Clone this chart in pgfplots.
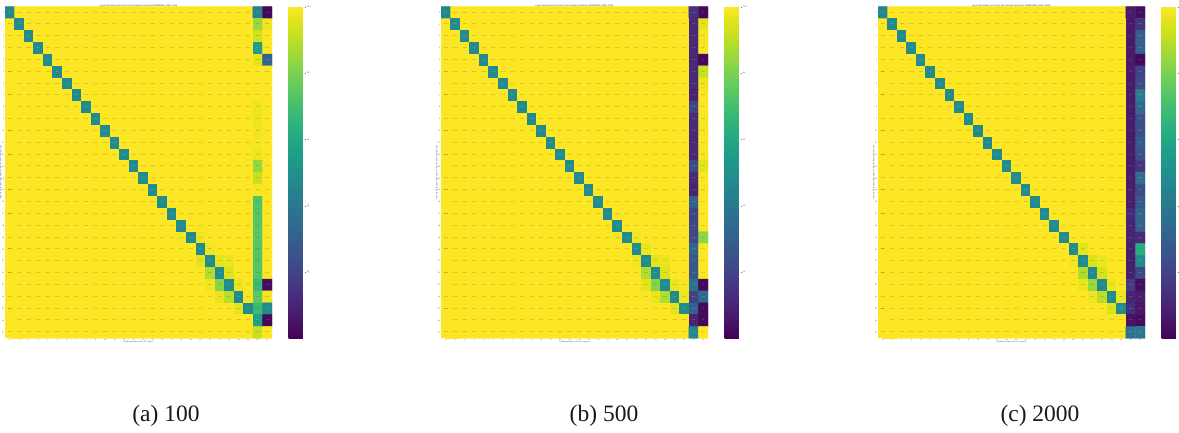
\documentclass[border=0pt]{standalone}
\usepackage{fontspec}
\setmainfont{Liberation Serif}
\newfontfamily\djv{DejaVu Sans}
\usepackage{pgfplots}
\usepackage{pgfplotstable}
\pgfplotsset{compat=1.18}
\definecolor{vtop}{RGB}{253,231,37}
\pgfplotstableread[row sep=\\,header=false]{%
46\\100\\100\\100\\100\\ 100\\100\\100\\100\\100\\ 100\\100\\100\\100\\100\\ 100\\100\\100\\100\\100\\ 100\\100\\100\\100\\100\\ 100\\44\\2\\
100\\48\\100\\100\\100\\ 100\\100\\100\\100\\100\\ 100\\100\\100\\100\\100\\ 100\\100\\100\\100\\100\\ 100\\100\\100\\100\\100\\ 100\\85\\98\\
100\\100\\48\\100\\100\\ 100\\100\\100\\100\\100\\ 100\\100\\100\\100\\100\\ 100\\100\\100\\100\\100\\ 100\\100\\100\\100\\100\\ 100\\93\\100\\
100\\100\\100\\48\\100\\ 100\\100\\100\\100\\100\\ 100\\100\\100\\100\\100\\ 100\\100\\100\\100\\100\\ 100\\100\\100\\100\\100\\ 100\\55\\100\\
100\\100\\100\\100\\48\\ 100\\100\\100\\100\\100\\ 100\\100\\100\\100\\100\\ 100\\100\\100\\100\\100\\ 100\\100\\100\\100\\100\\ 100\\96\\32\\
100\\100\\100\\100\\100\\ 48\\100\\100\\100\\100\\ 100\\100\\100\\100\\100\\ 100\\100\\100\\100\\100\\ 100\\100\\100\\100\\100\\ 100\\100\\100\\
100\\100\\100\\100\\100\\ 100\\48\\100\\100\\100\\ 100\\100\\100\\100\\100\\ 100\\100\\100\\100\\100\\ 100\\100\\100\\100\\100\\ 100\\100\\100\\
100\\100\\100\\100\\100\\ 100\\100\\48\\100\\100\\ 100\\100\\100\\100\\100\\ 100\\100\\100\\100\\100\\ 100\\100\\100\\100\\100\\ 100\\100\\100\\
100\\100\\100\\100\\100\\ 100\\100\\100\\48\\100\\ 100\\100\\100\\100\\100\\ 100\\100\\100\\100\\100\\ 100\\100\\100\\100\\100\\ 100\\97\\100\\
100\\100\\100\\100\\100\\ 100\\100\\100\\100\\48\\ 100\\100\\100\\100\\100\\ 100\\100\\100\\100\\100\\ 100\\100\\100\\100\\100\\ 100\\97\\100\\
100\\100\\100\\100\\100\\ 100\\100\\100\\100\\100\\ 48\\100\\100\\100\\100\\ 100\\100\\100\\100\\100\\ 100\\100\\100\\100\\100\\ 100\\98\\100\\
100\\100\\100\\100\\100\\ 100\\100\\100\\100\\100\\ 100\\48\\100\\100\\100\\ 100\\100\\100\\100\\100\\ 100\\100\\100\\100\\100\\ 100\\99\\100\\
100\\100\\100\\100\\100\\ 100\\100\\100\\100\\100\\ 100\\100\\48\\100\\100\\ 100\\100\\100\\100\\100\\ 100\\100\\100\\100\\100\\ 100\\97\\100\\
100\\100\\100\\100\\100\\ 100\\100\\100\\100\\100\\ 100\\100\\100\\48\\100\\ 100\\100\\100\\100\\100\\ 100\\100\\100\\100\\100\\ 100\\84\\100\\
100\\100\\100\\100\\100\\ 100\\100\\100\\100\\100\\ 100\\100\\100\\100\\48\\ 100\\100\\100\\100\\100\\ 100\\100\\100\\100\\100\\ 100\\92\\100\\
100\\100\\100\\100\\100\\ 100\\100\\100\\100\\100\\ 100\\100\\100\\100\\100\\ 48\\100\\100\\100\\100\\ 100\\100\\100\\100\\100\\ 100\\99\\100\\
100\\100\\100\\100\\100\\ 100\\100\\100\\100\\100\\ 100\\100\\100\\100\\100\\ 100\\48\\100\\100\\100\\ 100\\100\\100\\100\\100\\ 100\\72\\100\\
100\\100\\100\\100\\100\\ 100\\100\\100\\100\\100\\ 100\\100\\100\\100\\100\\ 100\\100\\48\\100\\100\\ 100\\100\\100\\100\\100\\ 100\\73\\100\\
100\\100\\100\\100\\100\\ 100\\100\\100\\100\\100\\ 100\\100\\100\\100\\100\\ 100\\100\\100\\48\\100\\ 100\\100\\100\\100\\100\\ 100\\74\\100\\
100\\100\\100\\100\\100\\ 100\\100\\100\\100\\100\\ 100\\100\\100\\100\\100\\ 100\\100\\100\\99\\48\\ 98\\100\\100\\100\\100\\ 100\\74\\100\\
100\\100\\100\\100\\100\\ 100\\100\\100\\100\\100\\ 100\\100\\100\\100\\100\\ 100\\100\\100\\100\\100\\ 48\\98\\100\\100\\100\\ 100\\73\\100\\
100\\100\\100\\100\\100\\ 100\\100\\100\\100\\100\\ 100\\100\\100\\100\\100\\ 100\\100\\100\\100\\100\\ 96\\48\\96\\97\\100\\ 100\\73\\100\\
100\\100\\100\\100\\100\\ 100\\100\\100\\100\\100\\ 100\\100\\100\\100\\100\\ 100\\100\\100\\100\\100\\ 100\\88\\48\\95\\100\\ 100\\73\\100\\
100\\100\\100\\100\\100\\ 100\\100\\100\\100\\100\\ 100\\100\\100\\100\\100\\ 100\\100\\100\\100\\100\\ 100\\98\\82\\48\\97\\ 100\\68\\3\\
100\\100\\100\\100\\100\\ 100\\100\\100\\100\\100\\ 100\\100\\100\\100\\100\\ 100\\100\\100\\100\\100\\ 100\\100\\97\\90\\48\\ 99\\75\\98\\
100\\100\\100\\100\\100\\ 100\\100\\100\\100\\100\\ 100\\100\\100\\100\\100\\ 100\\100\\100\\100\\100\\ 100\\100\\100\\100\\96\\ 48\\68\\48\\
100\\100\\100\\100\\100\\ 100\\100\\100\\100\\100\\ 100\\100\\100\\100\\100\\ 100\\100\\100\\100\\100\\ 100\\100\\100\\100\\100\\ 100\\57\\2\\
100\\100\\100\\100\\100\\ 100\\100\\100\\100\\100\\ 100\\100\\100\\100\\100\\ 100\\100\\100\\100\\100\\ 100\\100\\100\\100\\100\\ 100\\92\\100\\%
}\tabA
\pgfplotstableread[row sep=\\,header=false]{%
46\\100\\100\\100\\100\\ 100\\100\\100\\100\\100\\ 100\\100\\100\\100\\100\\ 100\\100\\100\\100\\100\\ 100\\100\\100\\100\\100\\ 100\\14\\2\\
100\\48\\100\\100\\100\\ 100\\100\\100\\100\\100\\ 100\\100\\100\\100\\100\\ 100\\100\\100\\100\\100\\ 100\\100\\100\\100\\100\\ 100\\12\\96\\
100\\100\\48\\100\\100\\ 100\\100\\100\\100\\100\\ 100\\100\\100\\100\\100\\ 100\\100\\100\\100\\100\\ 100\\100\\100\\100\\100\\ 100\\12\\99\\
100\\100\\100\\48\\100\\ 100\\100\\100\\100\\100\\ 100\\100\\100\\100\\100\\ 100\\100\\100\\100\\100\\ 100\\100\\100\\100\\100\\ 100\\12\\99\\
100\\100\\100\\100\\48\\ 100\\100\\100\\100\\100\\ 100\\100\\100\\100\\100\\ 100\\100\\100\\100\\100\\ 100\\100\\100\\100\\100\\ 100\\11\\2\\
100\\100\\100\\100\\100\\ 48\\100\\100\\100\\100\\ 100\\100\\100\\100\\100\\ 100\\100\\100\\100\\100\\ 100\\100\\100\\100\\100\\ 100\\12\\92\\
100\\100\\100\\100\\100\\ 100\\48\\100\\100\\100\\ 100\\100\\100\\100\\100\\ 100\\100\\100\\100\\100\\ 100\\100\\100\\100\\100\\ 100\\12\\98\\
100\\100\\100\\100\\100\\ 100\\100\\48\\100\\100\\ 100\\100\\100\\100\\100\\ 100\\100\\100\\100\\100\\ 100\\100\\100\\100\\100\\ 100\\10\\100\\
100\\100\\100\\100\\100\\ 100\\100\\100\\48\\100\\ 100\\100\\100\\100\\100\\ 100\\100\\100\\100\\100\\ 100\\100\\100\\100\\100\\ 100\\20\\100\\
100\\100\\100\\100\\100\\ 100\\100\\100\\100\\48\\ 100\\100\\100\\100\\100\\ 100\\100\\100\\100\\100\\ 100\\100\\100\\100\\100\\ 100\\12\\99\\
100\\100\\100\\100\\100\\ 100\\100\\100\\100\\100\\ 48\\100\\100\\100\\100\\ 100\\100\\100\\100\\100\\ 100\\100\\100\\100\\100\\ 100\\12\\99\\
100\\100\\100\\100\\100\\ 100\\100\\100\\100\\100\\ 100\\48\\100\\100\\100\\ 100\\100\\100\\100\\100\\ 100\\100\\100\\100\\100\\ 100\\11\\100\\
100\\100\\100\\100\\100\\ 100\\100\\100\\100\\100\\ 100\\100\\48\\100\\100\\ 100\\100\\100\\100\\100\\ 100\\100\\100\\100\\100\\ 100\\11\\99\\
100\\100\\100\\100\\100\\ 100\\100\\100\\100\\100\\ 100\\100\\100\\48\\100\\ 100\\100\\100\\100\\100\\ 100\\100\\100\\100\\100\\ 100\\22\\96\\
100\\100\\100\\100\\100\\ 100\\100\\100\\100\\100\\ 100\\100\\100\\100\\48\\ 100\\100\\100\\100\\100\\ 100\\100\\100\\100\\100\\ 100\\12\\100\\
100\\100\\100\\100\\100\\ 100\\100\\100\\100\\100\\ 100\\100\\100\\100\\100\\ 48\\100\\100\\100\\100\\ 100\\100\\100\\100\\100\\ 100\\10\\99\\
100\\100\\100\\100\\100\\ 100\\100\\100\\100\\100\\ 100\\100\\100\\100\\100\\ 100\\48\\100\\100\\100\\ 100\\100\\100\\100\\100\\ 100\\30\\100\\
100\\100\\100\\100\\100\\ 100\\100\\100\\100\\100\\ 100\\100\\100\\100\\100\\ 100\\100\\48\\100\\100\\ 100\\100\\100\\100\\100\\ 100\\20\\100\\
100\\100\\100\\100\\100\\ 100\\100\\100\\100\\100\\ 100\\100\\100\\100\\100\\ 100\\100\\100\\48\\100\\ 100\\100\\100\\100\\100\\ 100\\22\\100\\
100\\100\\100\\100\\100\\ 100\\100\\100\\100\\100\\ 100\\100\\100\\100\\100\\ 100\\100\\100\\99\\48\\ 98\\100\\100\\100\\100\\ 100\\22\\83\\
100\\100\\100\\100\\100\\ 100\\100\\100\\100\\100\\ 100\\100\\100\\100\\100\\ 100\\100\\100\\100\\100\\ 48\\97\\100\\100\\100\\ 100\\32\\100\\
100\\100\\100\\100\\100\\ 100\\100\\100\\100\\100\\ 100\\100\\100\\100\\100\\ 100\\100\\100\\100\\100\\ 98\\48\\96\\97\\100\\ 100\\27\\100\\
100\\100\\100\\100\\100\\ 100\\100\\100\\100\\100\\ 100\\100\\100\\100\\100\\ 100\\100\\100\\100\\100\\ 100\\88\\48\\95\\100\\ 100\\27\\100\\
100\\100\\100\\100\\100\\ 100\\100\\100\\100\\100\\ 100\\100\\100\\100\\100\\ 100\\100\\100\\100\\100\\ 100\\96\\82\\48\\97\\ 99\\37\\2\\
100\\100\\100\\100\\100\\ 100\\100\\100\\100\\100\\ 100\\100\\100\\100\\100\\ 100\\100\\100\\100\\100\\ 100\\100\\97\\88\\48\\ 98\\20\\34\\
100\\100\\100\\100\\100\\ 100\\100\\100\\100\\100\\ 100\\100\\100\\100\\100\\ 100\\100\\100\\100\\100\\ 100\\100\\100\\100\\96\\ 48\\30\\2\\
100\\100\\100\\100\\100\\ 100\\100\\100\\100\\100\\ 100\\100\\100\\100\\100\\ 100\\100\\100\\100\\100\\ 100\\100\\100\\100\\100\\ 100\\10\\2\\
100\\100\\100\\100\\100\\ 100\\100\\100\\100\\100\\ 100\\100\\100\\100\\100\\ 100\\100\\100\\100\\100\\ 100\\100\\100\\100\\100\\ 100\\47\\100\\%
}\tabB
\pgfplotstableread[row sep=\\,header=false]{%
46\\100\\100\\100\\100\\ 100\\100\\100\\100\\100\\ 100\\100\\100\\100\\100\\ 100\\100\\100\\100\\100\\ 100\\100\\100\\100\\100\\ 100\\7\\3\\
100\\48\\100\\100\\100\\ 100\\100\\100\\100\\100\\ 100\\100\\100\\100\\100\\ 100\\100\\100\\100\\100\\ 100\\100\\100\\100\\100\\ 100\\7\\15\\
100\\100\\48\\100\\100\\ 100\\100\\100\\100\\100\\ 100\\100\\100\\100\\100\\ 100\\100\\100\\100\\100\\ 100\\100\\100\\100\\100\\ 100\\7\\30\\
100\\100\\100\\48\\100\\ 100\\100\\100\\100\\100\\ 100\\100\\100\\100\\100\\ 100\\100\\100\\100\\100\\ 100\\100\\100\\100\\100\\ 100\\7\\30\\
100\\100\\100\\100\\48\\ 100\\100\\100\\100\\100\\ 100\\100\\100\\100\\100\\ 100\\100\\100\\100\\100\\ 100\\100\\100\\100\\100\\ 100\\7\\2\\
100\\100\\100\\100\\100\\ 48\\100\\100\\100\\100\\ 100\\100\\100\\100\\100\\ 100\\100\\100\\100\\100\\ 100\\100\\100\\100\\100\\ 100\\7\\20\\
100\\100\\100\\100\\100\\ 100\\48\\100\\100\\100\\ 100\\100\\100\\100\\100\\ 100\\100\\100\\100\\100\\ 100\\100\\100\\100\\100\\ 100\\7\\22\\
100\\100\\100\\100\\100\\ 100\\100\\48\\100\\100\\ 100\\100\\100\\100\\100\\ 100\\100\\100\\100\\100\\ 100\\100\\100\\100\\100\\ 100\\7\\42\\
100\\100\\100\\100\\100\\ 100\\100\\100\\48\\100\\ 100\\100\\100\\100\\100\\ 100\\100\\100\\100\\100\\ 100\\100\\100\\100\\100\\ 100\\7\\34\\
100\\100\\100\\100\\100\\ 100\\100\\100\\100\\48\\ 100\\100\\100\\100\\100\\ 100\\100\\100\\100\\100\\ 100\\100\\100\\100\\100\\ 100\\7\\24\\
100\\100\\100\\100\\100\\ 100\\100\\100\\100\\100\\ 48\\100\\100\\100\\100\\ 100\\100\\100\\100\\100\\ 100\\100\\100\\100\\100\\ 100\\7\\24\\
100\\100\\100\\100\\100\\ 100\\100\\100\\100\\100\\ 100\\48\\100\\100\\100\\ 100\\100\\100\\100\\100\\ 100\\100\\100\\100\\100\\ 100\\7\\28\\
100\\100\\100\\100\\100\\ 100\\100\\100\\100\\100\\ 100\\100\\48\\100\\100\\ 100\\100\\100\\100\\100\\ 100\\100\\100\\100\\100\\ 100\\7\\24\\
100\\100\\100\\100\\100\\ 100\\100\\100\\100\\100\\ 100\\100\\100\\48\\100\\ 100\\100\\100\\100\\100\\ 100\\100\\100\\100\\100\\ 100\\7\\15\\
100\\100\\100\\100\\100\\ 100\\100\\100\\100\\100\\ 100\\100\\100\\100\\48\\ 100\\100\\100\\100\\100\\ 100\\100\\100\\100\\100\\ 100\\7\\35\\
100\\100\\100\\100\\100\\ 100\\100\\100\\100\\100\\ 100\\100\\100\\100\\100\\ 48\\100\\100\\100\\100\\ 100\\100\\100\\100\\100\\ 100\\8\\22\\
100\\100\\100\\100\\100\\ 100\\100\\100\\100\\100\\ 100\\100\\100\\100\\100\\ 100\\48\\100\\100\\100\\ 100\\100\\100\\100\\100\\ 100\\8\\28\\
100\\100\\100\\100\\100\\ 100\\100\\100\\100\\100\\ 100\\100\\100\\100\\100\\ 100\\100\\48\\100\\100\\ 100\\100\\100\\100\\100\\ 100\\12\\32\\
100\\100\\100\\100\\100\\ 100\\100\\100\\100\\100\\ 100\\100\\100\\100\\100\\ 100\\100\\100\\48\\100\\ 100\\100\\100\\100\\100\\ 100\\10\\32\\
100\\100\\100\\100\\100\\ 100\\100\\100\\100\\100\\ 100\\100\\100\\100\\100\\ 100\\100\\100\\100\\48\\ 100\\100\\100\\100\\100\\ 100\\10\\12\\
100\\100\\100\\100\\100\\ 100\\100\\100\\100\\100\\ 100\\100\\100\\100\\100\\ 100\\100\\100\\100\\100\\ 48\\96\\100\\100\\100\\ 100\\8\\62\\
100\\100\\100\\100\\100\\ 100\\100\\100\\100\\100\\ 100\\100\\100\\100\\100\\ 100\\100\\100\\100\\100\\ 98\\48\\95\\97\\100\\ 100\\8\\47\\
100\\100\\100\\100\\100\\ 100\\100\\100\\100\\100\\ 100\\100\\100\\100\\100\\ 100\\100\\100\\100\\100\\ 100\\88\\48\\94\\100\\ 100\\8\\22\\
100\\100\\100\\100\\100\\ 100\\100\\100\\100\\100\\ 100\\100\\100\\100\\100\\ 100\\100\\100\\100\\100\\ 100\\97\\85\\48\\97\\ 100\\17\\3\\
100\\100\\100\\100\\100\\ 100\\100\\100\\100\\100\\ 100\\100\\100\\100\\100\\ 100\\100\\100\\100\\100\\ 100\\100\\98\\90\\48\\ 98\\10\\8\\
100\\100\\100\\100\\100\\ 100\\100\\100\\100\\100\\ 100\\100\\100\\100\\100\\ 100\\100\\100\\100\\100\\ 100\\100\\100\\100\\95\\ 48\\13\\6\\
100\\100\\100\\100\\100\\ 100\\100\\100\\100\\100\\ 100\\100\\100\\100\\100\\ 100\\100\\100\\100\\100\\ 100\\100\\100\\100\\100\\ 100\\5\\3\\
100\\100\\100\\100\\100\\ 100\\100\\100\\100\\100\\ 100\\100\\100\\100\\100\\ 100\\100\\100\\100\\100\\ 100\\100\\100\\100\\100\\ 100\\38\\40\\%
}\tabC
\pgfplotstablecreatecol[create col/expr={mod(\pgfplotstablerow,28)}]{cx}\tabA
\pgfplotstablecreatecol[create col/expr={floor(\pgfplotstablerow/28)}]{cy}\tabA
\pgfplotstablecreatecol[create col/expr={mod(\pgfplotstablerow,28)}]{cx}\tabB
\pgfplotstablecreatecol[create col/expr={floor(\pgfplotstablerow/28)}]{cy}\tabB
\pgfplotstablecreatecol[create col/expr={mod(\pgfplotstablerow,28)}]{cx}\tabC
\pgfplotstablecreatecol[create col/expr={floor(\pgfplotstablerow/28)}]{cy}\tabC
\pgfplotsset{
  hm/.style={
    scale only axis, width=267pt, height=331.6pt,
    anchor=south west,
    y dir=reverse,
    xmin=-0.5, xmax=27.5, ymin=-0.5, ymax=27.5,
    xtick={0,...,27}, ytick={0,...,27},
    point meta min=0, point meta max=100,
    colormap/viridis,
    axis background/.style={fill=vtop},
    axis line style={draw=none},
    tick style={draw=black!55, line width=0.1pt},
    major tick length=1pt,
    xticklabel pos=lower, xtick pos=lower, ytick pos=left,
    tick label style={font=\djv\fontsize{1.7}{2}\selectfont, text=black!70, inner sep=0.6pt},
    /pgf/number format/assume math mode=true,
    title style={font=\djv\fontsize{2.2}{2.6}\selectfont, text=black!75, yshift=-7pt, inner sep=0.5pt},
    xlabel style={font=\djv\fontsize{1.9}{2.3}\selectfont, text=black!75, yshift=0.5pt, inner sep=0.4pt},
    ylabel style={font=\djv\fontsize{1.9}{2.3}\selectfont, text=black!75, yshift=-1pt, inner sep=0.4pt},
    xlabel={Predicted Layer (0 to 27 Layer)},
    ylabel={Ground Truth Layer Boundary Index for Each Sample Set},
    colorbar,
    colorbar style={
      at={(parent axis.north east)}, anchor=north west, xshift=8pt, width=17.5pt, scale only axis,
      height=331.6pt,
      ytick={20,40,60,80,100},
      ytick pos=right, yticklabel pos=right,
      tick style={draw=black!55, line width=0.1pt}, major tick length=1pt,
      axis line style={draw=none},
      yticklabel style={font=\djv\fontsize{1.9}{2.3}\selectfont, text=black!70, inner sep=0.6pt},
      /pgf/number format/assume math mode=true,
    },
  },
  anno/.style={
    only marks, mark=none, forget plot,
    nodes near coords={\pgfmathfloattofixed{\pgfplotspointmeta}\let\vv\pgfmathresult\ifdim\vv pt<60pt \color{white!80!black}\fi\pgfmathprintnumber[fixed,fixed zerofill,precision=2]{\pgfplotspointmeta}},
    every node near coord/.style={anchor=center, inner sep=0pt, text=black!70,
      font=\djv\fontsize{1.15}{1.2}\selectfont},
  },
}
\begin{document}
\begin{tikzpicture}[x=1pt,y=1pt]
\useasboundingbox (0,0) rectangle (1179,433);
\begin{axis}[hm, at={(5pt,94.7pt)}, title={Layer Boundary Accuracy Percentage Heatmap (WINDOWS\_SIZE, 100)}]
  \addplot[matrix plot*, mesh/cols=28, point meta=explicit]
    table[x=cx, y=cy, meta index=0]{\tabA};
  \addplot[anno, point meta=explicit]
    table[x=cx, y=cy, meta index=0]{\tabA};
\end{axis}
\begin{axis}[hm, at={(441pt,94.7pt)}, title={Layer Boundary Accuracy Percentage Heatmap (WINDOWS\_SIZE, 500)}]
  \addplot[matrix plot*, mesh/cols=28, point meta=explicit]
    table[x=cx, y=cy, meta index=0]{\tabB};
  \addplot[anno, point meta=explicit]
    table[x=cx, y=cy, meta index=0]{\tabB};
\end{axis}
\begin{axis}[hm, at={(878pt,94.7pt)}, title={Layer Boundary Accuracy Percentage Heatmap (WINDOWS\_SIZE, 2000)}]
  \addplot[matrix plot*, mesh/cols=28, point meta=explicit]
    table[x=cx, y=cy, meta index=0]{\tabC};
  \addplot[anno, point meta=explicit]
    table[x=cx, y=cy, meta index=0]{\tabC};
\end{axis}
\node[font=\fontsize{23.5}{26}\selectfont, text=black!90, anchor=base] at (166,11.5) {(a) 100};
\node[font=\fontsize{23.5}{26}\selectfont, text=black!90, anchor=base] at (604,11.5) {(b) 500};
\node[font=\fontsize{23.5}{26}\selectfont, text=black!90, anchor=base] at (1040,11.5) {(c) 2000};
\end{tikzpicture}
\end{document}
